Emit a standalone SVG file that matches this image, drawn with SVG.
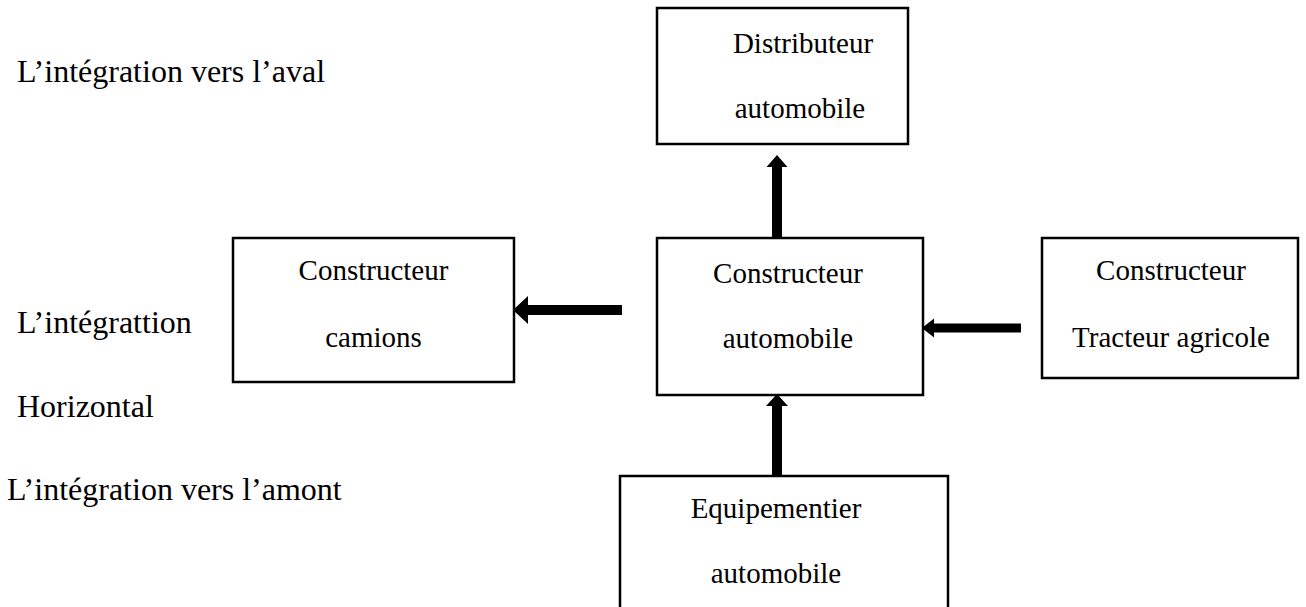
<svg xmlns="http://www.w3.org/2000/svg" width="1306" height="607" viewBox="0 0 1306 607">
  <style>
    .box { fill: #ffffff; stroke: #000000; stroke-width: 2.5; }
    .lbl { font-family: "Liberation Serif", "Times New Roman", serif; font-size: 29px; fill: #000000; text-anchor: middle; }
    .side { font-family: "Liberation Serif", "Times New Roman", serif; font-size: 32px; fill: #000000; }
    .arrow { fill: #000000; stroke: none; }
  </style>
  <rect width="1306" height="607" fill="#ffffff"/>

  <!-- side captions -->
  <g id="captions">
    <text class="side" x="17" y="82">L’intégration vers l’aval</text>
    <text class="side" x="17" y="333">L’intégrattion</text>
    <text class="side" x="17" y="417">Horizontal</text>
    <text class="side" x="7" y="500">L’intégration vers l’amont</text>
  </g>

  <!-- connectors: thick block arrows -->
  <g id="connectors">
    <!-- central -> distributeur (up) -->
    <polygon class="arrow" points="777,155 787.5,167 782,167 782,238 772,238 772,167 766.5,167"/>
    <!-- central -> camions (left) -->
    <polygon class="arrow" points="513,310 528,296 528,305 622,305 622,315 528,315 528,324"/>
    <!-- tracteur -> central (left) -->
    <polygon class="arrow" points="922,328 934,318.5 934,323.5 1021,323.5 1021,332.5 934,332.5 934,337.5"/>
    <!-- equipementier -> central (up) -->
    <polygon class="arrow" points="777,394 788,406 782,406 782,476 772,476 772,406 766,406"/>
  </g>

  <g id="distributeur">
    <rect class="box" x="657" y="8" width="251" height="136"/>
    <text class="lbl" x="803" y="53">Distributeur</text>
    <text class="lbl" x="800" y="118">automobile</text>
  </g>

  <g id="constructeur-camions">
    <rect class="box" x="233" y="238" width="281" height="144"/>
    <text class="lbl" x="373.5" y="280">Constructeur</text>
    <text class="lbl" x="373.5" y="347">camions</text>
  </g>

  <g id="constructeur-automobile">
    <rect class="box" x="657" y="238" width="266" height="157"/>
    <text class="lbl" x="788" y="283">Constructeur</text>
    <text class="lbl" x="788" y="348">automobile</text>
  </g>

  <g id="constructeur-tracteur">
    <rect class="box" x="1042" y="238" width="256" height="140"/>
    <text class="lbl" x="1171" y="280">Constructeur</text>
    <text class="lbl" x="1171" y="347">Tracteur agricole</text>
  </g>

  <g id="equipementier">
    <rect class="box" x="620" y="476" width="328" height="140"/>
    <text class="lbl" x="776" y="518">Equipementier</text>
    <text class="lbl" x="776" y="583">automobile</text>
  </g>
</svg>
